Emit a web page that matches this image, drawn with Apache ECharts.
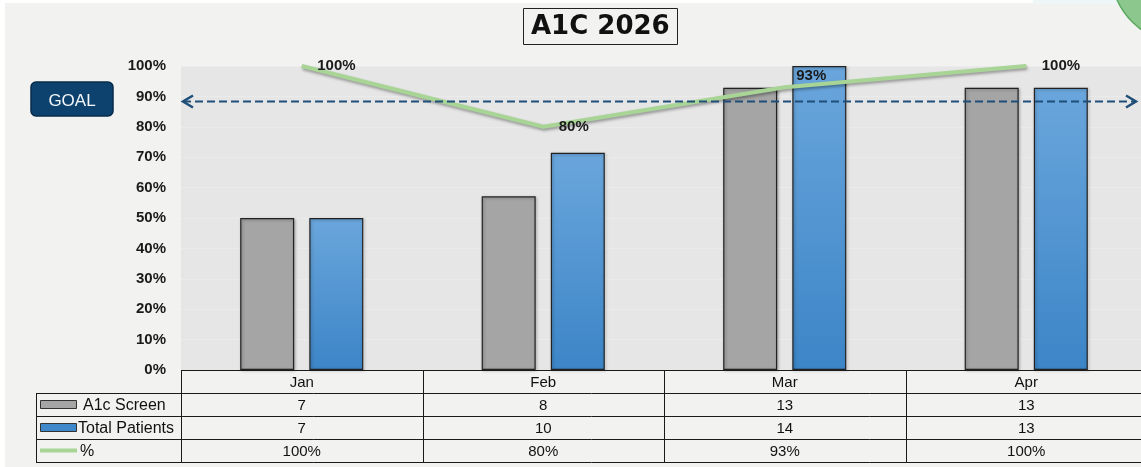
<!DOCTYPE html>
<html><head><meta charset="utf-8">
<script src="https://cdn.jsdelivr.net/npm/echarts@6/dist/echarts.min.js"></script>
<style>html,body{margin:0;padding:0;background:#f2f2f1;overflow:hidden}#c{width:1147px;height:467px}</style>
</head><body><div id="c"></div>
<script>
// ---- data ----
const categories = ['Jan', 'Feb', 'Mar', 'Apr'];
const screenCounts = [7, 8, 13, 13];
const totalPatients = [7, 10, 14, 13];
const pctValues = [100, 80, 93, 100];
const goalPct = 88.5;
const pctAxis = { min: 0, max: 100, interval: 10 };
const countAxisMax = 14;
const seriesNames = ['A1c Screen', 'Total Patients', '%'];
const titleText = 'A1C 2026';
const goalText = 'GOAL';

// ---- chart ----
const FONT = 'Liberation Sans, Arial, sans-serif';
const chart = echarts.init(document.getElementById('c'), null, { renderer: 'canvas' });
const GRID = { left: 181, top: 66, right: 0, bottom: 97 };
const GREEN = '#a8d596';
const GREY = '#a5a5a5';
const BLUE = new echarts.graphic.LinearGradient(0, 0, 0, 1, [
  { offset: 0, color: '#6aa6dc' }, { offset: 1, color: '#3c85c7' }
]);

const lineData = pctValues.map((v, i) => {
  const item = { value: v };
  if (i === 2) item.label = { show: true, position: 'right', distance: 11, offset: [0, -11] };
  return item;
});

chart.setOption({
  backgroundColor: '#f2f2f1',
  animation: false,
  title: {
    text: titleText, left: 523, top: 8,
    borderColor: '#222', borderWidth: 1, padding: [6, 8, 5, 8],
    textStyle: { fontFamily: 'DejaVu Sans, sans-serif', fontWeight: 'bold', fontSize: 26, color: '#111' }
  },
  grid: Object.assign({ show: true, backgroundColor: '#e6e6e6', borderWidth: 0, containLabel: false }, GRID),
  xAxis: {
    type: 'category', data: categories,
    axisLine: { show: false }, axisTick: { show: false }, axisLabel: { show: false }
  },
  yAxis: [
    {
      type: 'value', min: pctAxis.min, max: pctAxis.max, interval: pctAxis.interval,
      axisLine: { show: false }, axisTick: { show: false },
      axisLabel: { formatter: '{value}%', margin: 15, fontFamily: FONT, fontWeight: 'bold', fontSize: 15, color: '#1a1a1a' },
      splitLine: { show: true, lineStyle: { color: '#ebebeb', width: 1 } }
    },
    { type: 'value', min: 0, max: countAxisMax, show: false, splitLine: { show: false } }
  ],
  series: [
    {
      name: seriesNames[0], type: 'bar', yAxisIndex: 1, data: screenCounts,
      barWidth: 54, barGap: '28%',
      itemStyle: { color: GREY, borderColor: '#222', borderWidth: 1.2, shadowColor: 'rgba(0,0,0,0.3)', shadowBlur: 3, shadowOffsetX: 1, shadowOffsetY: 1 }
    },
    {
      name: seriesNames[1], type: 'bar', yAxisIndex: 1, data: totalPatients,
      barWidth: 54,
      itemStyle: { color: BLUE, borderColor: '#222', borderWidth: 1.2, shadowColor: 'rgba(0,0,0,0.3)', shadowBlur: 3, shadowOffsetX: 1, shadowOffsetY: 1 }
    },
    {
      name: seriesNames[2], type: 'line', yAxisIndex: 0, data: lineData,
      symbol: 'circle', symbolSize: 1, showSymbol: true, z: 5,
      itemStyle: { color: GREEN, opacity: 0 },
      lineStyle: { color: GREEN, width: 4, opacity: 1, shadowColor: 'rgba(0,0,0,0.35)', shadowBlur: 3, shadowOffsetX: 1, shadowOffsetY: 2 },
      label: {
        show: true, position: 'right', distance: 15, formatter: '{c}%',
        fontFamily: FONT, fontWeight: 'bold', fontSize: 15, color: '#1a1a1a', opacity: 1
      }
    }
  ]
});

// ---- overlay graphics built from the axes ----
const centers = categories.map(c => chart.convertToPixel({ xAxisIndex: 0 }, c));
const band = centers[1] - centers[0];
const colLeft = centers[0] - band / 2;
const colRight = centers[centers.length - 1] + band / 2;
const goalY = Math.round(chart.convertToPixel({ yAxisIndex: 0 }, goalPct)) + 0.5;
const baseY = Math.round(chart.convertToPixel({ yAxisIndex: 0 }, pctAxis.min));
const rowH = 23;
const legendLeft = 36;
const LINE = { stroke: '#1a1a1a', lineWidth: 1 };
const g = [];
const px = v => Math.round(v) + 0.5;

// frame strips / corner decoration
g.push({ type: 'rect', shape: { x: 0, y: 0, width: 1147, height: 3 }, style: { fill: '#ffffff' }, silent: true });
g.push({ type: 'rect', shape: { x: 0, y: 0, width: 5, height: 467 }, style: { fill: '#ffffff' }, silent: true });
g.push({ type: 'rect', shape: { x: 1033, y: 0, width: 114, height: 4 }, style: { fill: '#eef6f7' }, silent: true });
g.push({ type: 'circle', shape: { cx: 1185, cy: -30, r: 74 }, style: { fill: '#8cc88e', stroke: '#5ba85f', lineWidth: 1.5 }, silent: true });

// GOAL box
g.push({ type: 'rect', shape: { x: 31, y: 82, width: 82, height: 34, r: 5 }, style: { fill: '#0d426e', stroke: '#072b49', lineWidth: 1.5 }, silent: true });
g.push({ type: 'text', style: { text: goalText, x: 72, y: 101, align: 'center', verticalAlign: 'middle', font: '17px ' + FONT, fill: '#f4f6f8' }, silent: true });

// goal dashed line with arrows
g.push({ type: 'line', shape: { x1: colLeft + 2, y1: goalY, x2: 1135, y2: goalY }, style: { stroke: '#1f4e79', lineWidth: 2, lineDash: [8, 4] }, z: 10, silent: true });
g.push({ type: 'polyline', shape: { points: [[colLeft + 12, goalY - 6], [colLeft + 2, goalY], [colLeft + 12, goalY + 6]] }, style: { stroke: '#1f4e79', lineWidth: 2.5, fill: null }, z: 10, silent: true });
g.push({ type: 'polyline', shape: { points: [[1126, goalY - 6], [1136, goalY], [1126, goalY + 6]] }, style: { stroke: '#1f4e79', lineWidth: 2.5, fill: null }, z: 10, silent: true });

// data table
const rowsY = [0, 1, 2, 3, 4].map(i => baseY + i * rowH);
g.push({ type: 'rect', shape: { x: colLeft, y: rowsY[0], width: colRight - colLeft, height: rowH }, style: { fill: '#f2f2f1' }, silent: true });
g.push({ type: 'line', shape: { x1: colLeft, y1: px(rowsY[0]), x2: colRight, y2: px(rowsY[0]) }, style: LINE, silent: true, z: 20 });
for (let r = 1; r <= 4; r++) {
  g.push({ type: 'line', shape: { x1: legendLeft, y1: px(rowsY[r]), x2: colRight, y2: px(rowsY[r]) }, style: LINE, silent: true, z: 20 });
}
g.push({ type: 'line', shape: { x1: px(legendLeft), y1: rowsY[1], x2: px(legendLeft), y2: rowsY[4] + 1 }, style: LINE, silent: true, z: 20 });
for (let c = 0; c < categories.length; c++) {
  const x = px(colLeft + c * band);
  g.push({ type: 'line', shape: { x1: x, y1: rowsY[0], x2: x, y2: rowsY[4] + 1 }, style: LINE, silent: true, z: 20 });
}
const cellFont = '15px ' + FONT;
const rows = [categories, screenCounts.map(String), totalPatients.map(String), pctValues.map(v => v + '%')];
rows.forEach((row, r) => {
  row.forEach((t, c) => {
    g.push({ type: 'text', style: { text: t, x: centers[c], y: rowsY[r] + rowH / 2 + 1, align: 'center', verticalAlign: 'middle', font: cellFont, fill: '#111' }, silent: true, z: 21 });
  });
});
// legend keys
const legFont = '16px ' + FONT;
g.push({ type: 'rect', shape: { x: 40.5, y: rowsY[1] + 7.5, width: 36, height: 8 }, style: { fill: GREY, stroke: '#333', lineWidth: 1 }, silent: true, z: 21 });
g.push({ type: 'text', style: { text: seriesNames[0], x: 83, y: rowsY[1] + rowH / 2 + 1, verticalAlign: 'middle', font: legFont, fill: '#111' }, silent: true, z: 21 });
g.push({ type: 'rect', shape: { x: 40.5, y: rowsY[2] + 7.5, width: 36, height: 8 }, style: { fill: '#3f88c9', stroke: '#333', lineWidth: 1 }, silent: true, z: 21 });
g.push({ type: 'text', style: { text: seriesNames[1], x: 78, y: rowsY[2] + rowH / 2 + 1, verticalAlign: 'middle', font: legFont, fill: '#111' }, silent: true, z: 21 });
g.push({ type: 'line', shape: { x1: 40, y1: rowsY[3] + 11.5, x2: 77, y2: rowsY[3] + 11.5 }, style: { stroke: GREEN, lineWidth: 4 }, silent: true, z: 21 });
g.push({ type: 'text', style: { text: seriesNames[2], x: 80, y: rowsY[3] + rowH / 2 + 1, verticalAlign: 'middle', font: legFont, fill: '#111' }, silent: true, z: 21 });

chart.setOption({ graphic: { elements: g } });
</script>
</body></html>
